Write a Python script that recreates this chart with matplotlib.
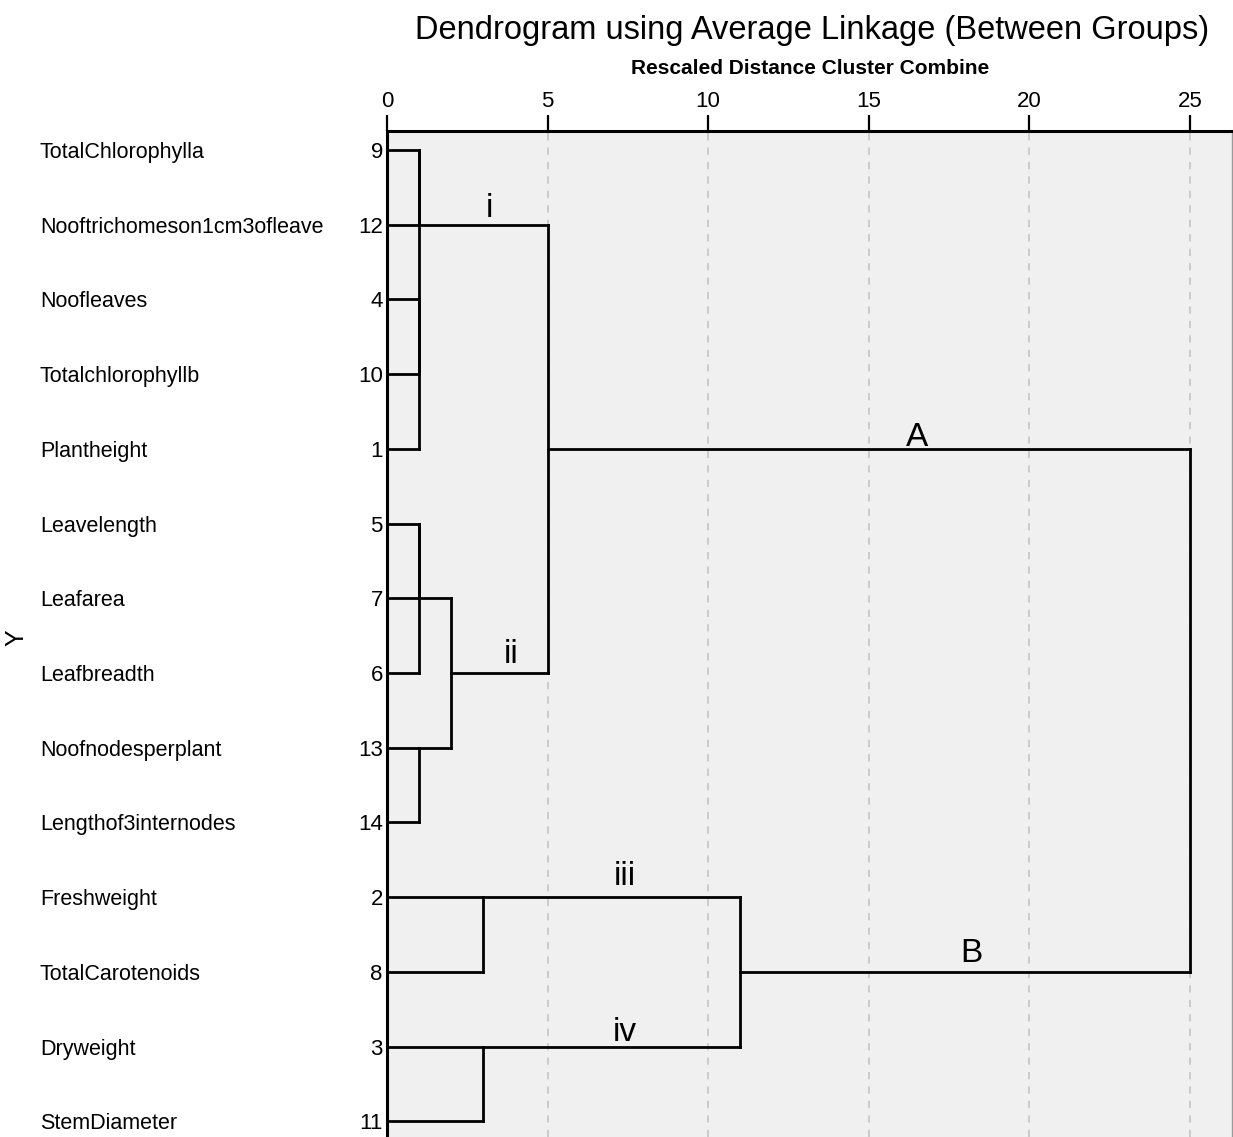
import matplotlib
matplotlib.use("Agg")
import matplotlib.pyplot as plt

# leaves in the order they appear on the dendrogram, top to bottom
names = ["TotalChlorophylla", "Nooftrichomeson1cm3ofleave", "Noofleaves",
         "Totalchlorophyllb", "Plantheight", "Leavelength", "Leafarea",
         "Leafbreadth", "Noofnodesperplant", "Lengthof3internodes",
         "Freshweight", "TotalCarotenoids", "Dryweight", "StemDiameter"]
case_ids = [9, 12, 4, 10, 1, 5, 7, 6, 13, 14, 2, 8, 3, 11]

# merge table: (cluster a, cluster b, rescaled distance)
# clusters 0..13 are the leaves, each merge creates the next cluster id
merges = [
    (2, 3, 1),     # 14: 4 + 10
    (14, 4, 1),    # 15: + 1
    (0, 1, 1),     # 16: 9 + 12
    (16, 15, 1),   # 17
    (5, 6, 1),     # 18: 5 + 7
    (18, 7, 1),    # 19: + 6
    (8, 9, 1),     # 20: 13 + 14
    (19, 20, 2),   # 21
    (17, 21, 5),   # 22
    (10, 11, 3),   # 23: 2 + 8
    (12, 13, 3),   # 24: 3 + 11
    (23, 24, 11),  # 25
    (22, 25, 25),  # 26
]

group_labels = ["i", "ii", "A", "iii", "B", "iv"]
group_x = [3.2, 3.85, 16.5, 7.4, 18.2, 7.4]
group_y = [0.9, 6.87, 3.96, 9.84, 10.87, 11.93]

W, H = 1233, 1137
fig = plt.figure(figsize=(W / 100, H / 100), dpi=100)
ax = fig.add_axes([387 / W, 0, 845 / W, 1 - 131 / H])
ax.set_facecolor("#f0f0f0")

line_kw = dict(color="black", lw=2.0, solid_capstyle="projecting")

# y position and height (distance) of every cluster node
ypos = {i: float(i) for i in range(len(names))}
height = {i: 0.0 for i in range(len(names))}
parent_h = {}
for k, (a, b, d) in enumerate(merges):
    node = len(names) + k
    ypos[node] = (ypos[a] + ypos[b]) // 2
    height[node] = d
    parent_h[a] = d
    parent_h[b] = d
    ax.plot([d, d], [ypos[a], ypos[b]], **line_kw)

for node, ph in parent_h.items():
    ax.plot([height[node], ph], [ypos[node], ypos[node]], **line_kw)

for txt, gx, gy in zip(group_labels, group_x, group_y):
    ax.text(gx, gy, txt, ha="center", va="baseline", fontsize=24,
            family="Liberation Sans")

ax.set_xlim(0, 26.31)
ax.set_ylim(13.21, -0.254)

ax.xaxis.tick_top()
ax.set_xticks([0, 5, 10, 15, 20, 25])
ax.tick_params(axis="x", direction="out", length=11.5, width=1.6,
               pad=2, labelsize=16, labelfontfamily="Liberation Sans")
ax.xaxis.grid(True, color="#c8c8c8", linestyle=(0, (4, 4)), lw=1.3)

ax.set_yticks(range(len(names)))
ax.set_yticklabels([str(c) for c in case_ids])
ax.tick_params(axis="y", length=0, pad=3, labelsize=16,
               labelfontfamily="Liberation Sans")

for side in ["top", "left"]:
    ax.spines[side].set_linewidth(2.2)
ax.spines["right"].set_color("#9a9a9a")
ax.spines["right"].set_linewidth(1)
ax.spines["bottom"].set_visible(False)

trans = matplotlib.transforms.blended_transform_factory(fig.transFigure, ax.transData)
for i, nm in enumerate(names):
    ax.text(40 / W, i, nm, transform=trans, ha="left", va="center_baseline",
            fontsize=15.5, family="Liberation Sans", clip_on=False)

fig.text(16 / W, 1 - 638 / H, "Y", rotation=90, ha="center", va="center",
         fontsize=18, family="Liberation Sans")

fig.text(812 / W, 1 - 31 / H, "Dendrogram using Average Linkage (Between Groups)",
         ha="center", va="center", fontsize=23.5, family="Liberation Sans")
fig.text(810 / W, 1 - 68 / H, "Rescaled Distance Cluster Combine",
         ha="center", va="center", fontsize=15, fontweight="bold",
         family="Liberation Sans")

fig.savefig("out.png", dpi=100)
